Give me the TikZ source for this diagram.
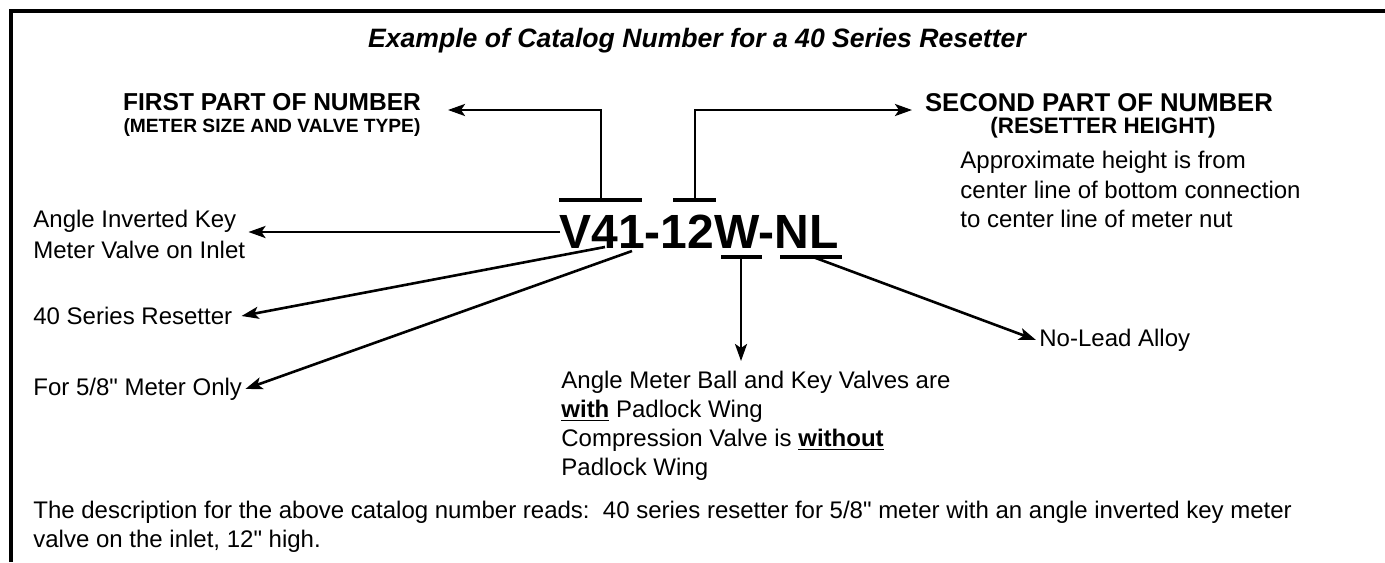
\documentclass[tikz,border=0pt]{standalone}
\usepackage{fontspec}
\newfontfamily\arial{Liberation Sans}
\usetikzlibrary{arrows.meta}

\begin{document}
\begin{tikzpicture}[x=0.5pt, y=-0.5pt,
  every node/.style={font=\arial\fontsize{12}{14.5}\selectfont, inner sep=1.5pt},
  title/.style={font=\arial\bfseries\itshape\fontsize{13.3}{16}\selectfont},
  head/.style={font=\arial\bfseries\fontsize{12.25}{15}\selectfont},
  subhead/.style={font=\arial\bfseries\fontsize{9.6}{12}\selectfont},
  code/.style={font=\arial\bfseries\fontsize{24}{28}\selectfont, inner sep=0pt},
  note/.style={align=left, anchor=west},
  frame/.style={line width=2pt},
  bar/.style={line width=1.7pt},
  lead/.style={line width=1.3pt, -{Stealth[length=8.5pt, width=6pt, inset=2pt]}},
]
  \useasboundingbox (0,0) rectangle (1385,562);
  \draw[frame] (10.5,562) -- (10.5,10.5) -- (1385,10.5);

  \node[title] (title) at (697,40.5) {Example of Catalog Number for a 40 Series Resetter};

  % headings
  \node[head]    (first)     at (272,102.5) {FIRST PART OF NUMBER};
  \node[subhead] (firstsub)  at (272,128) {(METER SIZE AND VALVE TYPE)};
  \node[head, font=\arial\bfseries\fontsize{12.85}{15}\selectfont] (second) at (1099,102.5)
    {SECOND PART OF NUMBER};
  \node[subhead, font=\arial\bfseries\fontsize{11.2}{13}\selectfont] (secondsub) at (1103,128)
    {(RESETTER HEIGHT)};
  \node[note, font=\arial\fontsize{12}{14.75}\selectfont] (approx) at (957,189.5)
    {Approximate height is from\\center line of bottom connection\\to center line of meter nut};

  % the number
  \node[code, anchor=base west] (code) at (559,248) {V41-12W-NL};

  % labels
  \node[note, font=\arial\fontsize{12}{15.5}\selectfont] (angle) at (30,234)
    {Angle Inverted Key\\Meter Valve on Inlet};
  \node[note] (series) at (30,316) {40 Series Resetter};
  \node[note] (meter)  at (30,389) {For 5/8" Meter Only};
  \node[note] (nolead) at (1036,340) {No-Lead Alloy};
  \node[note, anchor=north west] (ballkey) at (558,368)
    {Angle Meter Ball and Key Valves are\\
     \underline{\textbf{with}} Padlock Wing\\
     Compression Valve is \underline{\textbf{without}}\\
     Padlock Wing};
  \node[note, anchor=north west] (desc) at (30,498)
    {The description for the above catalog number reads:\ \ 40 series resetter for 5/8" meter with an angle inverted key meter\\
     valve on the inlet, 12" high.};

  % bars over and under the number
  \coordinate (vbarL) at (559,200);
  \coordinate (vbarR) at (642,200);
  \coordinate (tbarL) at (673,200);
  \coordinate (tbarR) at (716,200);
  \coordinate (wbarL) at (721,257);
  \coordinate (wbarR) at (762,257);
  \coordinate (nbarL) at (780,257);
  \coordinate (nbarR) at (842,257);
  \draw[bar] (vbarL) -- (vbarR);
  \draw[bar] (tbarL) -- (tbarR);
  \draw[bar] (wbarL) -- (wbarR);
  \draw[bar] (nbarL) -- (nbarR);

  % leaders
  \coordinate (vtop)  at (601,200);
  \coordinate (ttop)  at (695,200);
  \coordinate (firsttip)  at (448,110);
  \coordinate (secondtip) at (912,110);
  \draw[lead] (vtop) |- (firsttip);
  \draw[lead] (ttop) |- (secondtip);

  \coordinate (vleft) at (560,232);
  \coordinate (vfour) at (605,247);
  \coordinate (vone)  at (632,251);
  \draw[lead] (vleft) -- (vleft -| angle.east);
  \draw[lead] (vfour) -- ([xshift=3pt]series.east);
  \draw[lead] (vone)  -- (meter.east);

  \coordinate (wmid) at (741,257);
  \coordinate (wtip) at (741,361);
  \coordinate (nmid) at (813,257);
  \draw[lead] (wmid) -- (wtip);
  \draw[lead] (nmid) -- (nolead.west);
\end{tikzpicture}
\end{document}
